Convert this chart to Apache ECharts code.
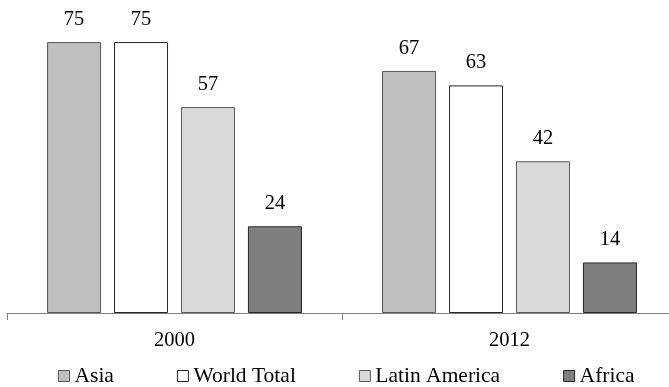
<!DOCTYPE html>
<html>
<head>
<meta charset="utf-8">
<script src="https://cdn.jsdelivr.net/npm/echarts@6/dist/echarts.min.js"></script>
<style>
  html, body { margin: 0; padding: 0; background: #fff; }
  #chart { width: 669px; height: 387px; }
</style>
</head>
<body>
<div id="chart"></div>
<script>
// Years on the category axis
const years = ['2000', '2012'];

// Values per region
const asia = [75, 67];
const worldTotal = [75, 63];
const latinAmerica = [57, 42];
const africa = [24, 14];

const font = "'Liberation Serif', 'Times New Roman', serif";

function bar(name, data, fill, border) {
  return {
    name: name,
    type: 'bar',
    data: data,
    barWidth: 54,
    barGap: '24%',
    itemStyle: { color: fill, borderColor: border, borderWidth: 1 },
    label: {
      show: true,
      position: 'top',
      distance: 12,
      color: '#000',
      fontFamily: font,
      fontSize: 20.5
    }
  };
}

const chart = echarts.init(document.getElementById('chart'));
chart.setOption({
  backgroundColor: '#fff',
  animation: false,
  // plot area runs a little past the right edge of the canvas
  grid: { left: 7, width: 670, top: 24, bottom: 74, containLabel: false, outerBoundsMode: 'none' },
  legend: {
    left: 53,
    top: 360,
    itemWidth: 11,
    itemHeight: 11,
    itemGap: 63,
    icon: 'rect',
    itemStyle: { borderWidth: 1 },
    textStyle: { fontFamily: font, fontSize: 21.5, color: '#000' },
    data: ['Asia', 'World Total', 'Latin America', 'Africa']
  },
  xAxis: {
    type: 'category',
    data: years,
    axisLine: { lineStyle: { color: '#808080', width: 1 } },
    axisTick: { show: true, length: 7, lineStyle: { color: '#808080' } },
    axisLabel: { fontFamily: font, fontSize: 20.5, color: '#000', margin: 17 }
  },
  yAxis: {
    type: 'value',
    min: 0,
    max: 80,
    show: false,
    splitLine: { show: false }
  },
  series: [
    bar('Asia', asia, '#bfbfbf', '#595959'),
    bar('World Total', worldTotal, '#ffffff', '#262626'),
    bar('Latin America', latinAmerica, '#d9d9d9', '#595959'),
    bar('Africa', africa, '#7f7f7f', '#262626')
  ]
});
</script>
</body>
</html>
